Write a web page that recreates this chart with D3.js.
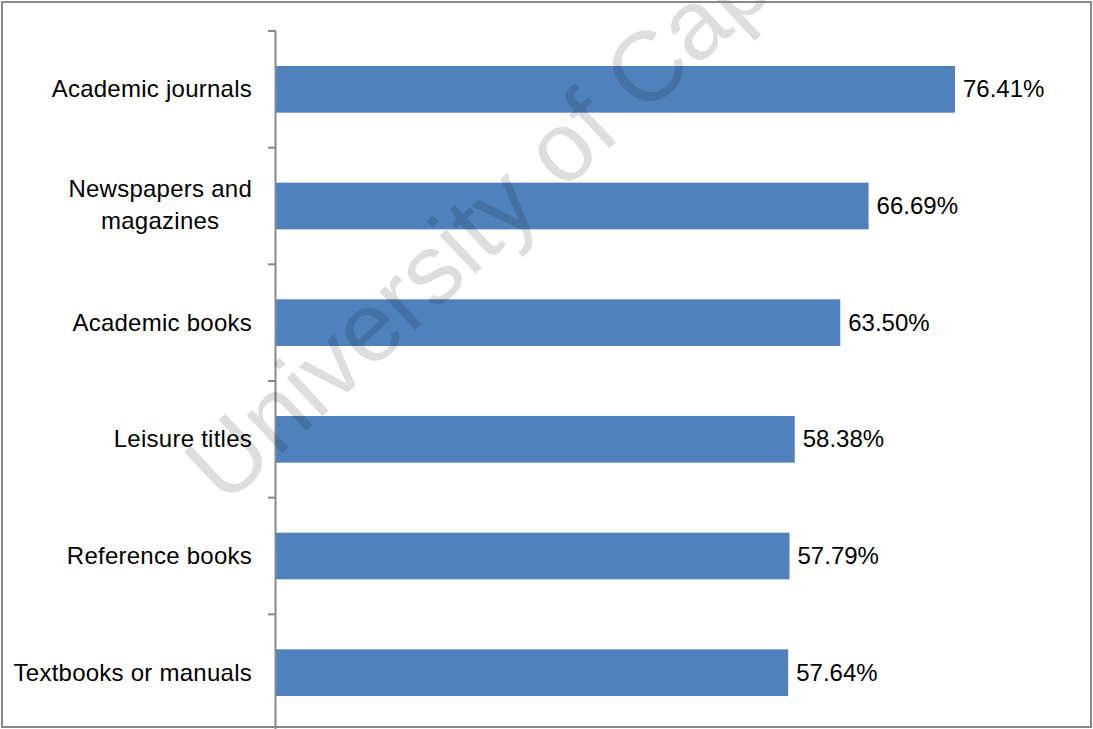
<!DOCTYPE html>
<html lang="en">
<head>
  <meta charset="UTF-8">
  <title>Preferred resources</title>
  <script src="https://d3js.org/d3.v7.min.js"></script>
  <style>
    body { margin: 0; background: #fff; }
    text { font-family: "Liberation Sans", Arial, sans-serif; fill: #000; }
    .cat, .val { font-size: 24px; }
    .cat { letter-spacing: 0.25px; }
    .mark { font-size: 99px; fill: #000; fill-opacity: 0.13; }
  </style>
</head>
<body>
  <svg width="1093" height="729"></svg>
  <script>
    const categories = ['Academic journals', 'Newspapers and|magazines', 'Academic books',
      'Leisure titles', 'Reference books', 'Textbooks or manuals'];
    const values = [76.41, 66.69, 63.50, 58.38, 57.79, 57.64];
    const valueLabels = ['76.41%', '66.69%', '63.50%', '58.38%', '57.79%', '57.64%'];

    const svg = d3.select('svg');

    const x = d3.scaleLinear()
      .domain([0, 80])
      .range([276, 276 + 80 * 8.886]);

    const y = d3.scaleBand()
      .domain(categories)
      .range([31, 731])
      .paddingInner(0.6)
      .paddingOuter(0.3);

    // bars
    svg.selectAll('.bar')
      .data(categories)
      .enter()
      .append('rect')
      .attr('class', 'bar')
      .attr('x', x(0))
      .attr('y', d => y(d))
      .attr('width', (d, i) => x(values[i]) - x(0))
      .attr('height', y.bandwidth())
      .attr('fill', '#4f81bd');

    // value labels
    svg.selectAll('.val')
      .data(categories)
      .enter()
      .append('text')
      .attr('class', 'val')
      .attr('x', (d, i) => x(values[i]) + 8)
      .attr('y', d => y(d) + y.bandwidth() / 2)
      .attr('dy', '0.33em')
      .text((d, i) => valueLabels[i]);

    // axis line with ticks between categories
    const step = y.step();
    const y0 = y.range()[0];
    svg.append('line')
      .attr('x1', 275.5).attr('x2', 275.5)
      .attr('y1', y0).attr('y2', y0 + step * categories.length)
      .attr('stroke', '#888').attr('stroke-width', 2);

    svg.selectAll('.tick')
      .data(d3.range(categories.length + 1))
      .enter()
      .append('line')
      .attr('class', 'tick')
      .attr('x1', 268).attr('x2', 276)
      .attr('y1', i => y0 + i * step)
      .attr('y2', i => y0 + i * step)
      .attr('stroke', '#888').attr('stroke-width', 2);

    // category labels, wrapped ones centred inside a right-aligned block
    const labelRight = 252;
    categories.forEach(c => {
      const lines = c.split('|');
      const cy = y(c) + y.bandwidth() / 2;
      const lh = 32;
      const g = svg.append('g');
      const texts = lines.map((ln, j) => g.append('text')
        .attr('class', 'cat')
        .attr('y', cy + (j - (lines.length - 1) / 2) * lh - (lines.length - 1))
        .attr('dy', '0.33em')
        .text(ln));
      if (lines.length === 1) {
        texts[0].attr('x', labelRight).attr('text-anchor', 'end');
      } else {
        const w = d3.max(texts, t => t.node().getComputedTextLength());
        texts.forEach(t => t.attr('x', labelRight - w / 2).attr('text-anchor', 'middle'));
      }
    });

    // watermark
    svg.append('text')
      .attr('class', 'mark')
      .attr('transform', 'translate(225,507) rotate(-43)')
      .text('University of Cape Town');

    // outer frame
    svg.append('rect')
      .attr('x', 2).attr('y', 2)
      .attr('width', 1089).attr('height', 725)
      .attr('fill', 'none')
      .attr('stroke', '#888')
      .attr('stroke-width', 2);
  </script>
</body>
</html>
